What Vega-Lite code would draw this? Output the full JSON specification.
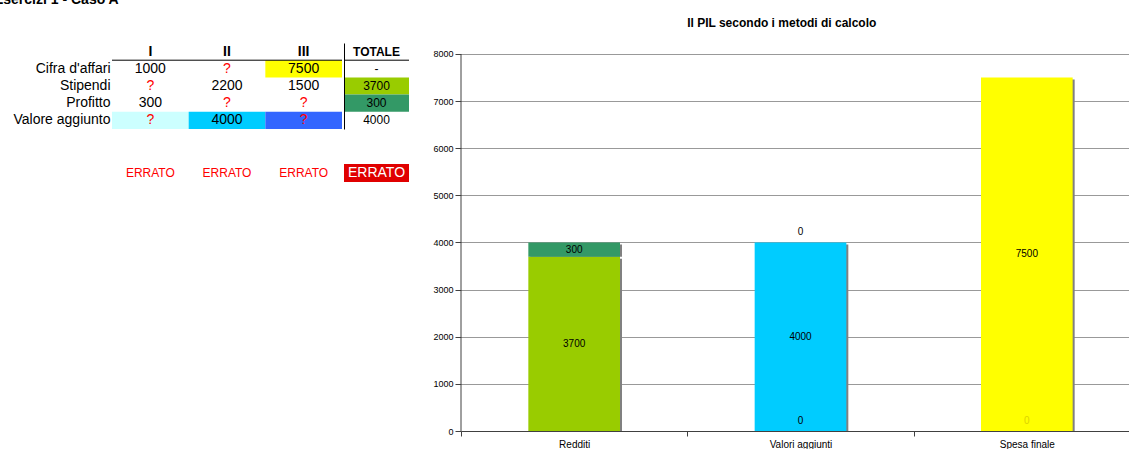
{
  "$schema": "https://vega.github.io/schema/vega-lite/v6.json",
  "padding": {"top": -7, "left": -7, "right": 0, "bottom": 0},
  "config": {
    "font": "Liberation Sans",
    "view": {"stroke": null},
    "axis": {"labelFont": "Liberation Sans"},
    "title": {"font": "Liberation Sans", "color": "#000000"}
  },
  "datasets": {
    "tabella": [
      {"row": " ", "col": "I", "valore": "I"},
      {"row": " ", "col": "II", "valore": "II"},
      {"row": " ", "col": "III", "valore": "III"},
      {"row": " ", "col": "TOTALE", "valore": "TOTALE"},
      {"row": "Cifra d'affari", "col": "I", "valore": "1000"},
      {"row": "Cifra d'affari", "col": "II", "valore": "?"},
      {"row": "Cifra d'affari", "col": "III", "valore": "7500", "evidenza": "Spesa finale"},
      {"row": "Cifra d'affari", "col": "TOTALE", "valore": "-"},
      {"row": "Stipendi", "col": "I", "valore": "?"},
      {"row": "Stipendi", "col": "II", "valore": "2200"},
      {"row": "Stipendi", "col": "III", "valore": "1500"},
      {"row": "Stipendi", "col": "TOTALE", "valore": "3700", "evidenza": "Stipendi"},
      {"row": "Profitto", "col": "I", "valore": "300"},
      {"row": "Profitto", "col": "II", "valore": "?"},
      {"row": "Profitto", "col": "III", "valore": "?"},
      {"row": "Profitto", "col": "TOTALE", "valore": "300", "evidenza": "Profitto"},
      {"row": "Valore aggiunto", "col": "I", "valore": "?", "evidenza": "VA I"},
      {"row": "Valore aggiunto", "col": "II", "valore": "4000", "evidenza": "VA II"},
      {"row": "Valore aggiunto", "col": "III", "valore": "?", "evidenza": "VA III"},
      {"row": "Valore aggiunto", "col": "TOTALE", "valore": "4000"}
    ],
    "esiti": [
      {"col": "I", "esito": "ERRATO"},
      {"col": "II", "esito": "ERRATO"},
      {"col": "III", "esito": "ERRATO"},
      {"col": "TOTALE", "esito": "ERRATO"}
    ],
    "pil": [
      {"voce": "Redditi", "serie": "Stipendi", "valore": 3700},
      {"voce": "Redditi", "serie": "Profitto", "valore": 300},
      {"voce": "Valori aggiunti", "serie": "VA I", "valore": 0},
      {"voce": "Valori aggiunti", "serie": "VA II", "valore": 4000},
      {"voce": "Valori aggiunti", "serie": "VA III", "valore": 0},
      {"voce": "Spesa finale", "serie": "Altro", "valore": 0},
      {"voce": "Spesa finale", "serie": "Spesa finale", "valore": 7500}
    ]
  },
  "columns": 2,
  "align": "none",
  "spacing": 22,
  "concat": [
    {
      "title": {"text": "Esercizi 1 - Caso A", "anchor": "start", "frame": "bounds", "fontSize": 14, "fontWeight": "bold", "offset": 36, "dx": -19},
      "columns": 2,
      "spacing": {"row": 35, "column": 0},
      "concat": [
        {
          "width": 230, "height": 86,
          "data": {"name": "tabella"},
          "transform": [{"filter": "datum.col !== 'TOTALE'"}],
          "layer": [
            {
              "transform": [{"filter": "datum.evidenza"}],
              "mark": "rect",
              "encoding": {
                "x": {"field": "col", "type": "nominal", "scale": {"domain": ["I", "II", "III"], "paddingInner": 0, "paddingOuter": 0}, "axis": null},
                "y": {"field": "row", "type": "nominal", "scale": {"domain": [" ", "Cifra d'affari", "Stipendi", "Profitto", "Valore aggiunto"], "paddingInner": 0, "paddingOuter": 0},
                      "axis": {"title": null, "domain": false, "ticks": false, "labelFontSize": 14, "labelColor": "#000000", "labelPadding": 2}},
                "color": {"field": "evidenza", "type": "nominal", "legend": null,
                          "scale": {"domain": ["Spesa finale", "Stipendi", "Profitto", "VA I", "VA II", "VA III", "Altro"], "range": ["#FFFF00", "#99CC00", "#339966", "#CCFFFF", "#00CCFF", "#3366FF", "#FFFF00"]}}
              }
            },
            {
              "transform": [{"filter": "datum.row === ' ' && datum.col === 'I'"}],
              "mark": {"type": "rule", "color": "#000000", "strokeWidth": 1},
              "encoding": {
                "y": {"datum": "Cifra d'affari", "type": "nominal", "bandPosition": 0, "scale": {"domain": [" ", "Cifra d'affari", "Stipendi", "Profitto", "Valore aggiunto"], "paddingInner": 0, "paddingOuter": 0}}
              }
            },
            {
              "transform": [{"filter": "datum.row !== ' '"}],
              "mark": {"type": "text", "fontSize": 14},
              "encoding": {
                "x": {"field": "col", "type": "nominal", "scale": {"domain": ["I", "II", "III"], "paddingInner": 0, "paddingOuter": 0}, "axis": null},
                "y": {"field": "row", "type": "nominal", "scale": {"domain": [" ", "Cifra d'affari", "Stipendi", "Profitto", "Valore aggiunto"], "paddingInner": 0, "paddingOuter": 0}},
                "text": {"field": "valore"},
                "color": {"condition": {"test": "datum.valore === '?'", "value": "#FF0000"}, "value": "#000000"}
              }
            },
            {
              "transform": [{"filter": "datum.row === ' '"}],
              "mark": {"type": "text", "fontSize": 14, "fontWeight": "bold", "color": "#000000"},
              "encoding": {
                "x": {"field": "col", "type": "nominal", "scale": {"domain": ["I", "II", "III"], "paddingInner": 0, "paddingOuter": 0}, "axis": null},
                "y": {"field": "row", "type": "nominal", "scale": {"domain": [" ", "Cifra d'affari", "Stipendi", "Profitto", "Valore aggiunto"], "paddingInner": 0, "paddingOuter": 0}},
                "text": {"field": "valore"}
              }
            }
          ]
        },
        {
          "width": 65, "height": 86,
          "data": {"name": "tabella"},
          "transform": [{"filter": "datum.col === 'TOTALE'"}],
          "layer": [
            {
              "transform": [{"filter": "datum.evidenza"}],
              "mark": "rect",
              "encoding": {
                "x": {"field": "col", "type": "nominal", "scale": {"domain": ["TOTALE"], "paddingInner": 0, "paddingOuter": 0}, "axis": null},
                "y": {"field": "row", "type": "nominal", "scale": {"domain": [" ", "Cifra d'affari", "Stipendi", "Profitto", "Valore aggiunto"], "paddingInner": 0, "paddingOuter": 0},
                      "axis": {"title": null, "labels": false, "ticks": false, "domain": true, "domainColor": "#000000", "domainWidth": 1, "zindex": 1}},
                "color": {"field": "evidenza", "type": "nominal", "legend": null,
                          "scale": {"domain": ["Spesa finale", "Stipendi", "Profitto", "VA I", "VA II", "VA III", "Altro"], "range": ["#FFFF00", "#99CC00", "#339966", "#CCFFFF", "#00CCFF", "#3366FF", "#FFFF00"]}}
              }
            },
            {
              "transform": [{"filter": "datum.row === ' '"}],
              "mark": {"type": "rule", "color": "#000000", "strokeWidth": 1},
              "encoding": {
                "y": {"datum": "Cifra d'affari", "type": "nominal", "bandPosition": 0, "scale": {"domain": [" ", "Cifra d'affari", "Stipendi", "Profitto", "Valore aggiunto"], "paddingInner": 0, "paddingOuter": 0}}
              }
            },
            {
              "transform": [{"filter": "datum.row !== ' '"}],
              "mark": {"type": "text", "fontSize": 12, "color": "#000000"},
              "encoding": {
                "x": {"field": "col", "type": "nominal", "scale": {"domain": ["TOTALE"], "paddingInner": 0, "paddingOuter": 0}, "axis": null},
                "y": {"field": "row", "type": "nominal", "scale": {"domain": [" ", "Cifra d'affari", "Stipendi", "Profitto", "Valore aggiunto"], "paddingInner": 0, "paddingOuter": 0}},
                "text": {"field": "valore"}
              }
            },
            {
              "transform": [{"filter": "datum.row === ' '"}],
              "mark": {"type": "text", "fontSize": 12, "fontWeight": "bold", "color": "#000000"},
              "encoding": {
                "x": {"field": "col", "type": "nominal", "scale": {"domain": ["TOTALE"], "paddingInner": 0, "paddingOuter": 0}, "axis": null},
                "y": {"field": "row", "type": "nominal", "scale": {"domain": [" ", "Cifra d'affari", "Stipendi", "Profitto", "Valore aggiunto"], "paddingInner": 0, "paddingOuter": 0}},
                "text": {"field": "valore"}
              }
            }
          ]
        },
        {
          "width": 230, "height": 18,
          "data": {"name": "esiti"},
          "transform": [{"filter": "datum.col !== 'TOTALE'"}],
          "mark": {"type": "text", "fontSize": 12, "color": "#FF0000"},
          "encoding": {
            "x": {"field": "col", "type": "nominal", "scale": {"domain": ["I", "II", "III"], "paddingInner": 0, "paddingOuter": 0}, "axis": null},
            "text": {"field": "esito"}
          }
        },
        {
          "width": 65, "height": 18,
          "data": {"name": "esiti"},
          "transform": [{"filter": "datum.col === 'TOTALE'"}],
          "layer": [
            {
              "mark": {"type": "rect", "color": "#E00000"},
              "encoding": {
                "x": {"field": "col", "type": "nominal", "scale": {"domain": ["TOTALE"], "paddingInner": 0, "paddingOuter": 0}, "axis": null}
              }
            },
            {
              "mark": {"type": "text", "fontSize": 14, "color": "#FFFFFF"},
              "encoding": {
                "x": {"field": "col", "type": "nominal", "scale": {"domain": ["TOTALE"], "paddingInner": 0, "paddingOuter": 0}, "axis": null},
                "text": {"field": "esito"}
              }
            }
          ]
        }
      ]
    },
    {
      "width": 679, "height": 388,
      "title": {"text": ["", "Il PIL secondo i metodi di calcolo"], "fontSize": 12, "fontWeight": "bold", "lineHeight": 21, "anchor": "middle", "frame": "bounds", "offset": 13, "dx": -5},
      "data": {"name": "pil"},
      "transform": [
        {"stack": "valore", "groupby": ["voce"], "as": ["v0", "v1"]},
        {"calculate": "(datum.v0 + datum.v1) / 2", "as": "centro"}
      ],
      "layer": [
        {
          "transform": [{"filter": "datum.valore > 0"}],
          "mark": {"type": "bar", "color": "#808080", "width": {"band": 0.405}, "xOffset": 2, "yOffset": 2},
          "encoding": {
            "x": {"field": "voce", "type": "nominal", "sort": ["Redditi", "Valori aggiunti", "Spesa finale"], "scale": {"paddingInner": 0, "paddingOuter": 0},
                  "axis": {"title": null, "labelAngle": 0, "labelFontSize": 10, "labelColor": "#000000", "tickBand": "extent", "tickSize": 5, "tickColor": "#404040", "domainColor": "#404040", "labelPadding": 3}},
            "y": {"field": "v1", "type": "quantitative", "scale": {"domain": [0, 8233], "nice": false},
                  "axis": {"title": null, "format": "d", "values": [0, 1000, 2000, 3000, 4000, 5000, 6000, 7000, 8000], "grid": true, "gridColor": "#999999", "domain": false, "tickColor": "#404040", "tickSize": 6, "labelFontSize": 9, "labelColor": "#000000", "labelPadding": 2}},
            "y2": {"field": "v0"}
          }
        },
        {
          "transform": [{"filter": "datum.valore > 0"}],
          "mark": {"type": "bar", "width": {"band": 0.405}},
          "encoding": {
            "x": {"field": "voce", "type": "nominal", "sort": ["Redditi", "Valori aggiunti", "Spesa finale"]},
            "y": {"field": "v1", "type": "quantitative"},
            "y2": {"field": "v0"},
            "color": {"field": "serie", "type": "nominal", "legend": null,
                      "scale": {"domain": ["Spesa finale", "Stipendi", "Profitto", "VA I", "VA II", "VA III", "Altro"], "range": ["#FFFF00", "#99CC00", "#339966", "#CCFFFF", "#00CCFF", "#3366FF", "#FFFF00"]}}
          }
        },
        {
          "transform": [{"filter": "datum.voce === 'Redditi' && datum.serie === 'Stipendi'"}],
          "mark": {"type": "rule", "color": "#404040", "strokeWidth": 1},
          "encoding": {
            "x": {"datum": "Redditi", "type": "nominal", "bandPosition": 0},
            "y": {"datum": 0, "type": "quantitative"},
            "y2": {"datum": 8000}
          }
        },
        {
          "transform": [{"filter": "datum.valore > 0"}],
          "mark": {"type": "text", "fontSize": 10, "color": "#000000"},
          "encoding": {
            "x": {"field": "voce", "type": "nominal", "sort": ["Redditi", "Valori aggiunti", "Spesa finale"]},
            "y": {"field": "centro", "type": "quantitative"},
            "text": {"field": "valore"}
          }
        },
        {
          "transform": [{"filter": "datum.valore === 0"}],
          "mark": {"type": "text", "fontSize": 10, "dy": -10},
          "encoding": {
            "x": {"field": "voce", "type": "nominal", "sort": ["Redditi", "Valori aggiunti", "Spesa finale"]},
            "y": {"field": "centro", "type": "quantitative"},
            "text": {"field": "valore"},
            "color": {"condition": {"test": "datum.voce === 'Spesa finale'", "value": "#DCD400"}, "value": "#000000"}
          }
        }
      ]
    }
  ]
}
